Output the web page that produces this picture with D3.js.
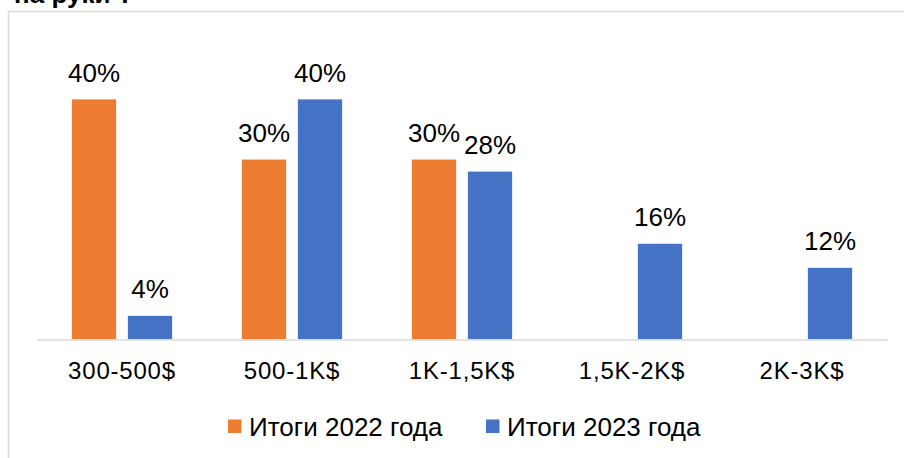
<!DOCTYPE html>
<html><head><meta charset="utf-8">
<script src="https://cdn.jsdelivr.net/npm/d3@7"></script>
<style>
html,body{margin:0;padding:0;background:#fff;}
svg{display:block;font-family:"Liberation Sans",Arial,sans-serif;}
</style></head>
<body>
<svg id="chart" width="904" height="458"></svg>
<script>
const categories = ["300-500$", "500-1K$", "1K-1,5K$", "1,5K-2K$", "2K-3K$"];
const seriesNames = ["Итоги 2022 года", "Итоги 2023 года"];
const values2022 = [40, 30, 30, null, null];
const values2023 = [4, 40, 28, 16, 12];
const colors = ["#ED7D31", "#4472C4"];
const titleText = "на руки ?";

const svg = d3.select("#chart");

// frame border
svg.append("rect").attr("x", 8.5).attr("y", 11.5).attr("width", 1000).attr("height", 1000)
  .attr("fill", "none").attr("stroke", "#d9d9d9").attr("stroke-width", 1.5);

// cut-off title (reference shows only its bottom edge)
svg.append("text").attr("x", 14).attr("y", 3).attr("font-weight", "bold")
  .attr("font-size", 26).attr("fill", "#000").text(titleText);

const x0 = d3.scaleBand().domain(categories).range([37, 887]).paddingInner(0).paddingOuter(0);
const x1 = d3.scaleBand().domain(seriesNames).range([34.5, 135.5]).paddingInner(0.196).paddingOuter(0);
const y = d3.scaleLinear().domain([0, 40]).range([339.5, 99]);

const data = categories.map((c, i) => ({cat: c, vals: [values2022[i], values2023[i]]}));

const g = svg.append("g");
const groups = g.selectAll("g.grp").data(data).join("g")
  .attr("transform", d => `translate(${x0(d.cat)},0)`);

groups.selectAll("rect").data(d => d.vals.map((v, j) => ({v, s: seriesNames[j], j})).filter(e => e.v != null))
  .join("rect")
  .attr("x", e => x1(e.s)).attr("width", x1.bandwidth())
  .attr("y", e => y(e.v)).attr("height", e => y(0) - y(e.v))
  .attr("fill", e => colors[e.j]).attr("stroke", "#fff").attr("stroke-width", 0.75);

groups.selectAll("text.val").data(d => d.vals.map((v, j) => ({v, s: seriesNames[j], j})).filter(e => e.v != null))
  .join("text").attr("class", "val")
  .attr("x", e => x1(e.s) + x1.bandwidth() / 2).attr("y", e => y(e.v) - 17)
  .attr("text-anchor", "middle").attr("font-size", 26).attr("fill", "#000")
  .text(e => e.v + "%");

// axis
const xAxis = d3.axisBottom(x0).tickSize(0).tickPadding(0);
const ax = svg.append("g").attr("transform", `translate(0,${y(0)})`).call(xAxis);
ax.select(".domain").attr("stroke", "#d9d9d9").attr("stroke-width", 1.5);
ax.selectAll(".tick text").attr("font-size", 24).attr("fill", "#000")
  .attr("font-family", "'Liberation Sans',Arial,sans-serif")
  .attr("letter-spacing", "0.8px")
  .attr("dy", 0).attr("y", 39).attr("dominant-baseline", "auto");

// legend
const legendX = [228, 486];
const lg = svg.append("g");
seriesNames.forEach((s, i) => {
  lg.append("rect").attr("x", legendX[i]).attr("y", 419.5).attr("width", 13.5).attr("height", 13.5).attr("fill", colors[i]);
  lg.append("text").attr("x", legendX[i] + 21).attr("y", 435.5).attr("font-size", 26).attr("fill", "#000").text(s);
});
</script>
</body></html>
